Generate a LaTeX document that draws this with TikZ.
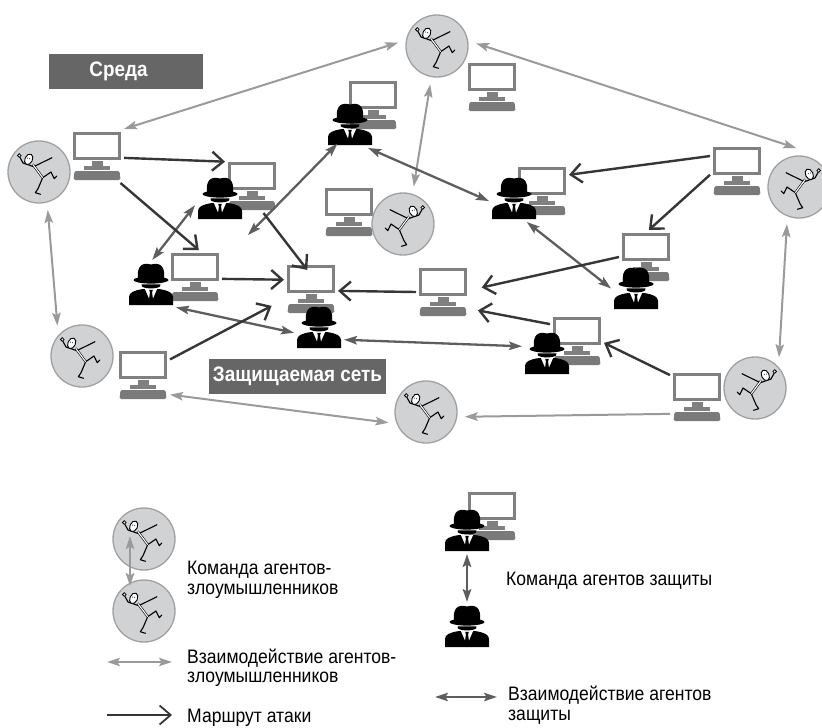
\documentclass[tikz,border=0pt]{standalone}
\usepackage{fontspec}
\setmainfont{Liberation Sans}[FakeStretch=0.9]
\usetikzlibrary{arrows.meta}

\definecolor{discgray}{HTML}{D1D2D4}
\definecolor{ringgray}{HTML}{A0A0A0}
\definecolor{pcgray}{HTML}{808080}
\definecolor{labelgray}{HTML}{666666}
\definecolor{attackgray}{HTML}{363636}
\definecolor{allygray}{HTML}{5E5E5E}
\definecolor{mategray}{HTML}{9A9A9A}

\tikzset{
  linkhead/.tip={Stealth[length=13pt,width=8.5pt,inset=2.5pt]},
  attackhead/.tip={Straight Barb[length=11pt,width=19pt]},
  % workstation: monitor, stand and keyboard
  computer/.pic={
    \draw[pcgray, line width=2.6pt, fill=white] (-22.5,-22.7) rectangle (22.5,2.7);
    \fill[pcgray] (-5.5,5) rectangle (5.5,9.5);
    \fill[pcgray] (-13,10) rectangle (13,13.5);
    \fill[pcgray!95!black, rounded corners=1.5pt] (-22.5,15) -- (22.5,15) -- (23.5,24) -- (-23.5,24) -- cycle;
  },
  % man in a hat
  agent/.pic={
    \fill (-13,-5) .. controls (-14.5,-18) and (-9,-22) .. (0,-19.5) .. controls (9,-22) and (14.5,-18) .. (13,-5) -- cycle;
    \fill (0,-4) ellipse [x radius=17.5, y radius=3.6];
    \fill (-9.5,0.4) -- (9.5,0.4) -- (9,2.5) .. controls (6,5) and (-6,5) .. (-9,2.5) -- cycle;
    \fill (-22,21) -- (-22,13) .. controls (-22,8.5) and (-17,6.5) .. (-9,5.2) -- (9,5.2) .. controls (17,6.5) and (22,8.5) .. (22,13) -- (22,21) -- cycle;
    \fill[white] (-6,5.2) -- (6,5.2) -- (0,19) -- cycle;
    \fill (-1.8,5.8) -- (1.8,5.8) -- (1.1,8.5) -- (2.3,18) -- (0,21) -- (-2.3,18) -- (-1.1,8.5) -- cycle;
  },
  % running stick man
  runner/.pic={
    \draw[line width=1.1pt, line join=round, line cap=round]
      (-5.3,-5.3) -- (-16,-9) -- (-19,-14.5)
      (-5.3,-5.3) -- (13,-14.3)
      (3.7,5.7) -- (12,0) -- (15.3,6.7) -- (17.8,4)
      (3.7,5.7) -- (-1,16.7) -- (-3.7,20.7) -- (1.5,22.3);
    \draw[double, double distance=1.1pt, line width=0.6pt] (-6.3,-7.7) -- (3.7,5.7);
    \draw[fill=white, line width=0.8pt] (-19.7,-16.5) circle (1.8);
    \draw[fill=white, line width=0.9pt] (-10.3,-12.7) ellipse [x radius=3.8, y radius=5.6, rotate=-25];
    \fill (-11.5,-14) circle (0.5) (-9.3,-13.3) circle (0.5);
  },
}

\begin{document}
\begin{tikzpicture}[x=1pt,y=-1pt,
  pc/.style={minimum width=48pt, minimum height=48pt, inner sep=0pt, outer sep=3pt},
  spy/.style={minimum width=44pt, minimum height=42pt, inner sep=0pt, outer sep=3pt},
  intruder/.style={circle, draw=ringgray, fill=discgray, line width=1.3pt, minimum size=62pt, inner sep=0pt, outer sep=8pt},
  banner/.style={fill=labelgray, text=white, inner sep=0pt, font=\fontsize{21}{21}\selectfont\bfseries},
  legend/.style={anchor=west, align=left, inner sep=0pt, font=\fontsize{19.5}{19.5}\selectfont},
  attack/.style={draw=attackgray, line width=2.4pt, -attackhead},
  mate/.style={draw=mategray, line width=2pt, linkhead-linkhead},
  ally/.style={draw=allygray, line width=2.3pt, linkhead-linkhead},
]
  \useasboundingbox (0,0) rectangle (822,728);

  % workstations
  \foreach \n/\x/\y in {C1/97/156, C2/492/87, C3/373/105, C4/252/186, C5/195/277,
      C6/311/289, C7/143/375, C8/542/191, C9/737/171, C10/646/257, C11/443/292,
      C12/577/341, C13/697/397, C14/349/212, LC/492/516}
  {
    \node[pc] (\n) at (\x,\y) {};
    \pic at (\n) {computer};
  }

  % defenders
  \foreach \n/\x/\y in {H1/350/124, H2/220/198, H3/151/284, H4/319/327, H5/514/198,
      H6/636/288, H7/547/353, LH1/467/530, LH2/467/626}
  {
    \node[spy] (\n) at (\x,\y) {};
    \pic at (\n) {agent};
  }

  % intruders (s = -1 runs to the left)
  \foreach \n/\x/\y/\s in {A1/39/172/1, A2/437/46/1, A3/403/224/-1, A4/799/187/-1,
      A5/82/356/1, A6/426/412/1, A7/755/388/-1, L1/144/539/1, L2/144/611/1}
  {
    \node[intruder] (\n) at (\x,\y) {};
    \pic[xscale=\s] at (\n) {runner};
  }

  % area labels
  \node[banner, minimum width=154pt, minimum height=35pt] (env) at (126,71.5) {};
  \node[text=white, inner sep=0pt, font=\fontsize{21}{21}\selectfont\bfseries] (envtext) at (118.5,71.5) {Среда};
  \node[banner, minimum width=177pt, minimum height=35pt] (lan) at (297.5,376.5) {Защищаемая сеть};

  % intruders talking
  \draw[mate] (C1.north east) -- (A2.175);
  \draw[mate] (A2.4) -- (A4.94);
  \draw[mate] (A2.260) -- (A3.74);
  \draw[mate] (A1.283) -- (A5.129);
  \draw[mate] (A4.252) -- (A7.52);
  \draw[mate] (C7.324) -- (A6.196);
  \draw[mate, -linkhead] (C13.212) -- (A6.353);

  % defenders talking
  \coordinate (post) at (248,235);
  \draw[ally] (H3.87) -- (H2.196);
  \draw[ally, shorten <=-6pt] (H1.235) -- (post);
  \draw[ally] (H3.317) -- (H4.193);
  \draw[ally] (H1.307) -- (H5.187);
  \draw[ally] (H5.298) -- (H6.181);
  \draw[ally] (H4.333) -- (H7.165);

  % attack routes
  \draw[attack] (C1.-4) -- (C4.138);
  \draw[attack] (C1.311) -- (C5.82);
  \draw[attack, shorten >=-10pt] (C4.293) -- (C6.110);
  \draw[attack] (C5.-4) -- (C6.161);
  \draw[attack, shorten >=14pt] (C7.30) -- (C6.201);
  \draw[attack] (C11.west) -- (C6.-4);
  \draw[attack, shorten >=12pt] (C10.west) -- (C11.4);
  \draw[attack, shorten >=8pt] (C12.148) -- (C11.328);
  \draw[attack] (C9.151) -- (C8.31);
  \draw[attack] (C9.188) -- (C10.84);
  \draw[attack] (C13.141) -- (C12.356);

  % legend
  \draw[mate, shorten <=-3pt, shorten >=25pt] ([xshift=-14pt]L1.center) -- ([xshift=-14pt]L2.center);
  \draw[ally] (LH1.south) -- (LH2.north);
  \coordinate (k1) at (107,662);
  \coordinate (k2) at (172,662);
  \coordinate (r1) at (107,715);
  \coordinate (r2) at (172,715);
  \coordinate (d1) at (435,697);
  \coordinate (d2) at (497,697);
  \draw[mate, line width=1.6pt] (k1) -- (k2);
  \draw[attack, line width=1.8pt] (r1) -- (r2);
  \draw[ally, line width=1.8pt] (d1) -- (d2);
  \node[legend] (t1) at (187,580) {Команда агентов-\\злоумышленников};
  \node[legend] (t2) at (187,668) {Взаимодействие агентов-\\злоумышленников};
  \node[legend] (t3) at (187,718) {Маршрут атаки};
  \node[legend] (t4) at (506,581) {Команда агентов защиты};
  \node[legend] (t5) at (508,705) {Взаимодействие агентов\\защиты};
\end{tikzpicture}
\end{document}
